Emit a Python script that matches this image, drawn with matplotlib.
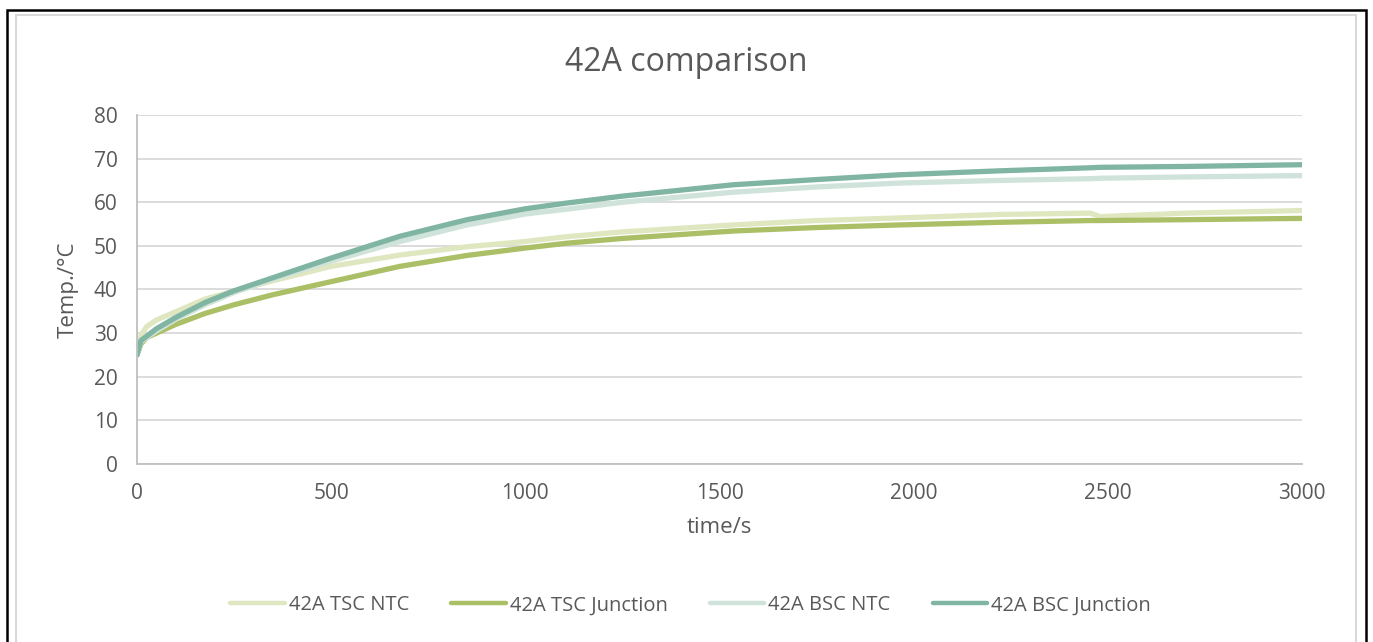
import matplotlib
matplotlib.use('Agg')
import matplotlib.pyplot as plt
from matplotlib.patches import Rectangle

plt.rcParams['font.family'] = ['Open Sans', 'DejaVu Sans']

# time points (s)
time_s = [0, 10, 25, 50, 100, 175, 250, 350, 500, 677, 850, 1000, 1106, 1250,
          1535, 1750, 1965, 2222, 2455, 2480, 2700, 3000]

# temperatures (degC) for each series
tsc_ntc = [25, 29.5, 31.5, 33.0, 34.9, 37.8, 39.6, 42.0, 45.3, 47.9, 49.8, 51.0,
           52.1, 53.2, 54.8, 55.8, 56.4, 57.2, 57.5, 56.7, 57.5, 58.1]
tsc_junction = [25, 27.5, 29.0, 30.0, 32.0, 34.5, 36.5, 38.8, 41.8, 45.3, 47.8, 49.5,
                50.6, 51.7, 53.4, 54.2, 54.8, 55.4, 55.8, 55.8, 56.0, 56.3]
bsc_ntc = [25, 28.0, 29.0, 30.5, 33.2, 36.5, 39.3, 42.4, 46.5, 51.0, 54.8, 57.3,
           58.4, 60.0, 62.3, 63.5, 64.4, 65.0, 65.4, 65.5, 65.8, 66.1]
bsc_junction = [25, 28.3, 29.3, 31.0, 33.6, 37.0, 39.7, 42.7, 47.2, 52.2, 56.0, 58.5,
                59.8, 61.4, 64.0, 65.2, 66.3, 67.2, 67.9, 68.0, 68.2, 68.6]

series_names = ['42A TSC NTC', '42A TSC Junction', '42A BSC NTC', '42A BSC Junction']
series_data = [tsc_ntc, tsc_junction, bsc_ntc, bsc_junction]
series_colors = ['#dfe7c1', '#abbf66', '#cfe3da', '#80b5a3']

x_ticks = [0, 500, 1000, 1500, 2000, 2500, 3000]
y_ticks = [0, 10, 20, 30, 40, 50, 60, 70, 80]

text_gray = '#595959'

fig = plt.figure(figsize=(13.73, 6.42), dpi=100)
ax = fig.add_axes([0.0998, 0.2773, 0.8485, 0.5436])

for name, vals, col in zip(series_names, series_data, series_colors):
    ax.plot(time_s, vals, color=col, lw=3.8, label=name, solid_capstyle='round')

ax.set_xlim(0, 3000)
ax.set_ylim(0, 80)
ax.set_xticks(x_ticks)
ax.set_yticks(y_ticks)
ax.tick_params(length=0, labelsize=15, labelcolor=text_gray, pad=14)
ax.grid(axis='y', color='#d9d9d9', lw=1.3)
ax.set_axisbelow(True)
for s in ['top', 'right']:
    ax.spines[s].set_visible(False)
for s in ['left', 'bottom']:
    ax.spines[s].set_color('#bfbfbf')
    ax.spines[s].set_linewidth(1.3)

ax.set_xlabel('time/s', fontsize=16, color=text_gray, labelpad=9)
ax.set_ylabel('Temp./°C', fontsize=16, color=text_gray, labelpad=11)
fig.text(0.5, 0.903, '42A comparison', ha='center', va='center', fontsize=23, color=text_gray)

leg = fig.legend(loc='center', bbox_to_anchor=(0.503, 0.057), ncol=4, frameon=False,
                 fontsize=14.5, handlelength=2.7, handletextpad=0.2, columnspacing=2.1,
                 labelcolor=text_gray)
for ln in leg.get_lines():
    ln.set_linewidth(3.2)

# chart borders
fig.patches.append(Rectangle((0.01165, -0.05), 0.97595, 1.0259, transform=fig.transFigure,
                             fill=False, ec='#d9d9d9', lw=1.5))
fig.patches.append(Rectangle((0.0051, -0.05), 0.9898, 1.0344, transform=fig.transFigure,
                             fill=False, ec='black', lw=1.8))

plt.savefig('out.png', dpi=100)
